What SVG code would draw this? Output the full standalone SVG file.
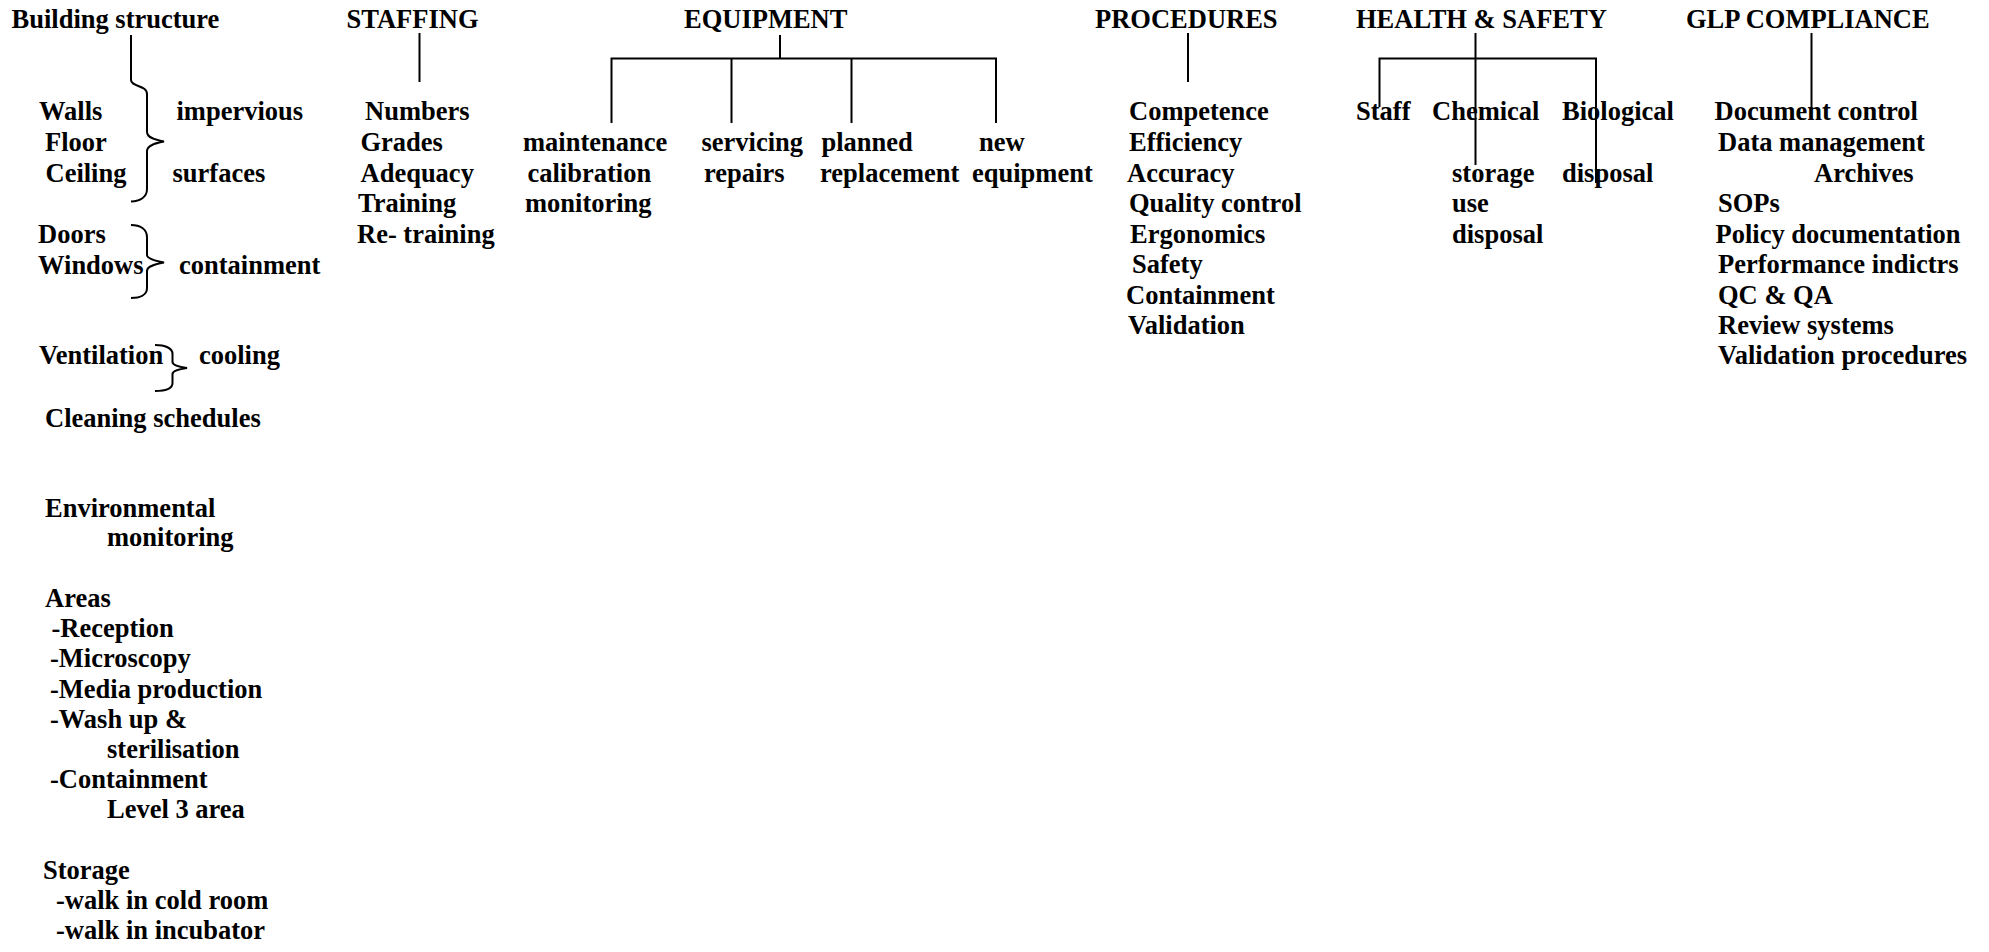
<svg xmlns="http://www.w3.org/2000/svg" width="1989" height="952" viewBox="0 0 1989 952">
<style>
text{font-family:"Liberation Serif","Times New Roman",serif;font-weight:bold;font-size:26.5px;fill:#000}
.c{fill:none;stroke:#000;stroke-width:2}
</style>
<rect width="1989" height="952" fill="#fff"/>
<g id="connectors" class="c">
<path class="c" d="M131,35 V80 C131,87 147,85 147,94 V132 C147,138 156,140 164,141.5 C156,143 147,145 147,151 V189 C147,197 140,201 131,201.5"/>
<path class="c" d="M131,225 C140,225 147,229 147,237 V255 C147,259 156,261 164,262.5 C156,264 147,266 147,271 V288 C147,295 140,298 131,298"/>
<path class="c" d="M155,345 C165,345 172.5,348 172.5,354 V362 C172.5,365 180,367 187,368 C180,369 172.5,371 172.5,374 V383 C172.5,389 165,391 155,391"/>
<line class="c" x1="419.5" y1="33" x2="419.5" y2="82"/>
<line class="c" x1="780" y1="35" x2="780" y2="58.5"/>
<polyline class="c" points="611.5,123 611.5,58.5 996,58.5 996,123"/>
<line class="c" x1="731.5" y1="58.5" x2="731.5" y2="123"/>
<line class="c" x1="851.5" y1="58.5" x2="851.5" y2="123"/>
<line class="c" x1="1188" y1="33" x2="1188" y2="82"/>
<line class="c" x1="1475.5" y1="33" x2="1475.5" y2="165"/>
<polyline class="c" points="1379.5,107 1379.5,58.5 1596,58.5 1596,183"/>
<line class="c" x1="1811.5" y1="33" x2="1811.5" y2="107"/>
</g>
<g id="building">
<text x="11.5" y="28">Building structure</text>
<text x="39" y="120">Walls</text>
<text x="45" y="150.5">Floor</text>
<text x="45.5" y="181.5">Ceiling</text>
<text x="176.5" y="120">impervious</text>
<text x="172.5" y="181.5">surfaces</text>
<text x="38" y="242.5">Doors</text>
<text x="38" y="274">Windows</text>
<text x="179" y="274">containment</text>
<text x="39" y="363.5">Ventilation</text>
<text x="199" y="363.5">cooling</text>
<text x="45" y="427">Cleaning schedules</text>
<text x="45" y="516.5">Environmental</text>
<text x="107" y="546">monitoring</text>
<text x="45" y="607">Areas</text>
<text x="51.5" y="636.5">-Reception</text>
<text x="50" y="667">-Microscopy</text>
<text x="50" y="697.5">-Media production</text>
<text x="50" y="727.5">-Wash up &amp;</text>
<text x="107" y="757.5">sterilisation</text>
<text x="50" y="787.5">-Containment</text>
<text x="107" y="818">Level 3 area</text>
<text x="43" y="879">Storage</text>
<text x="56" y="909">-walk in cold room</text>
<text x="56" y="938.5">-walk in incubator</text>
</g>
<g id="staffing">
<text x="346.5" y="28">STAFFING</text>
<text x="365" y="120">Numbers</text>
<text x="360.5" y="150.5">Grades</text>
<text x="360.5" y="181.5">Adequacy</text>
<text x="358" y="212">Training</text>
<text x="357" y="242.5">Re- training</text>
</g>
<g id="equipment">
<text x="684" y="28">EQUIPMENT</text>
</g>
<g id="eq-maintenance">
<text x="523" y="150.5">maintenance</text>
<text x="527.5" y="181.5">calibration</text>
<text x="525" y="212">monitoring</text>
</g>
<g id="eq-servicing">
<text x="701.5" y="150.5">servicing</text>
<text x="704" y="181.5">repairs</text>
</g>
<g id="eq-planned">
<text x="821.5" y="150.5">planned</text>
<text x="820" y="181.5">replacement</text>
</g>
<g id="eq-new">
<text x="979" y="150.5">new</text>
<text x="972" y="181.5">equipment</text>
</g>
<g id="procedures">
<text x="1095" y="28">PROCEDURES</text>
<text x="1129" y="120">Competence</text>
<text x="1129" y="150.5">Efficiency</text>
<text x="1127" y="181.5">Accuracy</text>
<text x="1129" y="212">Quality control</text>
<text x="1130" y="242.5">Ergonomics</text>
<text x="1132" y="273">Safety</text>
<text x="1126" y="303.5">Containment</text>
<text x="1128" y="334">Validation</text>
</g>
<g id="health-safety">
<text x="1356" y="28">HEALTH &amp; SAFETY</text>
</g>
<g id="hs-staff">
<text x="1356" y="120">Staff</text>
</g>
<g id="hs-chemical">
<text x="1432" y="120">Chemical</text>
<text x="1452" y="181.5">storage</text>
<text x="1452" y="212">use</text>
<text x="1452" y="242.5">disposal</text>
</g>
<g id="hs-biological">
<text x="1562" y="120">Biological</text>
<text x="1562" y="181.5">disposal</text>
</g>
<g id="glp">
<text x="1686" y="28">GLP COMPLIANCE</text>
<text x="1714.5" y="120">Document control</text>
<text x="1718" y="150.5">Data management</text>
<text x="1814" y="181.5">Archives</text>
<text x="1718" y="212">SOPs</text>
<text x="1715.5" y="242.5">Policy documentation</text>
<text x="1718" y="273">Performance indictrs</text>
<text x="1718" y="303.5">QC &amp; QA</text>
<text x="1718" y="334">Review systems</text>
<text x="1718" y="364">Validation procedures</text>
</g>
</svg>
